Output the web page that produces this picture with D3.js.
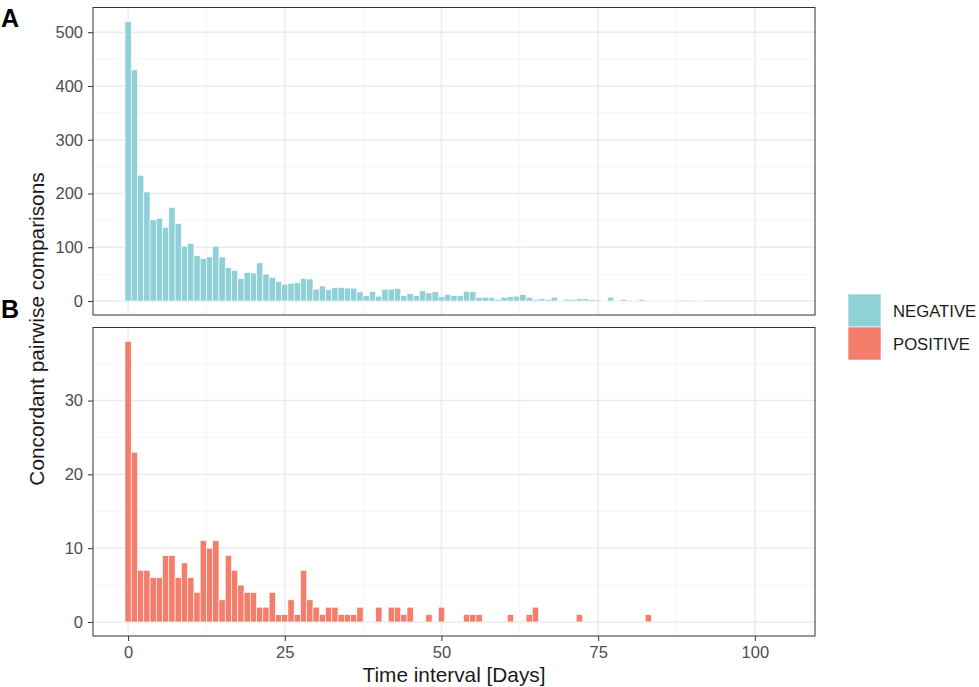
<!DOCTYPE html>
<html>
<head>
<meta charset="utf-8">
<script src="https://cdn.jsdelivr.net/npm/d3@7"></script>
<style>
  body { margin: 0; background: #fff; }
  text { font-family: "Liberation Sans", Arial, Helvetica, sans-serif; }
</style>
</head>
<body>
<div id="chart"></div>
<script>
var svgWidth = 979;
var svgHeight = 687;

// counts per day (bin centred on the day)
var negativeCounts = [520, 430, 234, 203, 151, 154, 137, 174, 144, 102,
  107, 84, 79, 82, 102, 82, 62, 57, 42, 53,
  52, 71, 50, 44, 36, 31, 33, 34, 42, 41,
  22, 28, 21, 25, 25, 24, 24, 17, 10, 18,
  9, 22, 22, 23, 10, 14, 10, 19, 15, 17,
  8, 12, 10, 10, 18, 17, 7, 7, 6, 3,
  7, 8, 9, 12, 7, 3, 4, 3, 7, 1,
  3, 3, 4, 4, 3, 2, 1, 7, 1, 3,
  0, 1, 3, 1, 1, 1, 1, 1, 0, 0,
  0, 1];
var positiveCounts = [38, 23, 7, 7, 6, 6, 9, 9, 6, 8,
  6, 4, 11, 10, 11, 3, 9, 7, 5, 4,
  4, 2, 2, 4, 1, 1, 3, 1, 7, 3,
  2, 1, 2, 2, 1, 1, 1, 2, 0, 0,
  2, 0, 2, 2, 1, 2, 0, 0, 1, 0,
  2, 0, 0, 0, 1, 1, 1, 0, 0, 0,
  0, 1, 0, 0, 1, 2, 0, 0, 0, 0,
  0, 0, 1, 0, 0, 0, 0, 0, 0, 0,
  0, 0, 0, 1];
var groups = ["NEGATIVE", "POSITIVE"];
var groupColors = ["#90D0D7", "#F47D6C"];
var panelLetters = ["A", "B"];
var xTicks = [0, 25, 50, 75, 100];
var xMinor = [12.5, 37.5, 62.5, 87.5];
var yTicksA = [0, 100, 200, 300, 400, 500];
var yMinorA = [50, 150, 250, 350, 450];
var yTicksB = [0, 10, 20, 30];
var yMinorB = [5, 15, 25, 35];

var panelLeft = 93, panelRight = 815;

var svg = d3.select("#chart")
  .append("svg")
  .attr("width", svgWidth)
  .attr("height", svgHeight);

var xScale = d3.scaleLinear()
  .domain([-5.6, 109.6])
  .range([panelLeft, panelRight]);

var panels = [
  { counts: negativeCounts, top: 7.5, bottom: 315, domain: [-26, 546], ticks: yTicksA, minor: yMinorA },
  { counts: positiveCounts, top: 327.5, bottom: 636, domain: [-1.9, 39.9], ticks: yTicksB, minor: yMinorB }
];

panels.forEach(function(p, k) {
  var yScale = d3.scaleLinear().domain(p.domain).range([p.bottom, p.top]);
  var g = svg.append("g");

  // grid: minor first, then major
  g.selectAll(".ymin").data(p.minor).enter().append("line")
    .attr("x1", panelLeft).attr("x2", panelRight)
    .attr("y1", d => yScale(d)).attr("y2", d => yScale(d))
    .attr("stroke", "#F2F2F2").attr("stroke-width", 0.8);
  g.selectAll(".xmin").data(xMinor).enter().append("line")
    .attr("y1", p.top).attr("y2", p.bottom)
    .attr("x1", d => xScale(d)).attr("x2", d => xScale(d))
    .attr("stroke", "#F2F2F2").attr("stroke-width", 0.8);
  g.selectAll(".ymaj").data(p.ticks).enter().append("line")
    .attr("x1", panelLeft).attr("x2", panelRight)
    .attr("y1", d => yScale(d)).attr("y2", d => yScale(d))
    .attr("stroke", "#EBEBEB").attr("stroke-width", 1.4);
  g.selectAll(".xmaj").data(xTicks).enter().append("line")
    .attr("y1", p.top).attr("y2", p.bottom)
    .attr("x1", d => xScale(d)).attr("x2", d => xScale(d))
    .attr("stroke", "#EBEBEB").attr("stroke-width", 1.4);

  // bars
  var bins = p.counts.map((v, i) => ({ day: i, n: v })).filter(d => d.n > 0);
  g.selectAll("rect.bar").data(bins).enter().append("rect")
    .attr("class", "bar")
    .attr("x", d => xScale(d.day - 0.5))
    .attr("width", d => xScale(d.day + 0.5) - xScale(d.day - 0.5))
    .attr("y", d => yScale(d.n))
    .attr("height", d => yScale(0) - yScale(d.n))
    .attr("fill", groupColors[k])
    .attr("stroke", "#fff")
    .attr("stroke-width", 0.6);

  // panel border
  g.append("rect")
    .attr("x", panelLeft).attr("y", p.top)
    .attr("width", panelRight - panelLeft).attr("height", p.bottom - p.top)
    .attr("fill", "none").attr("stroke", "#333").attr("stroke-width", 1);

  // y axis
  var yAxis = d3.axisLeft(yScale).tickValues(p.ticks).tickSize(5).tickPadding(5);
  var ya = g.append("g").attr("transform", `translate(${panelLeft},0)`).call(yAxis);
  ya.select(".domain").remove();
  ya.selectAll("line").attr("stroke", "#333");
  ya.selectAll("text").attr("fill", "#4D4D4D").style("font-size", "16.5px")
    .style("font-family", "'Liberation Sans', Arial, sans-serif");

  // panel letter
  svg.append("text")
    .attr("x", 1).attr("y", k === 0 ? 27 : 318)
    .attr("font-weight", "bold").style("font-size", "25px")
    .attr("fill", "#000")
    .text(panelLetters[k]);

  if (k === 1) {
    var xAxis = d3.axisBottom(xScale).tickValues(xTicks).tickSize(5).tickPadding(5);
    var xa = g.append("g").attr("transform", `translate(0,${p.bottom})`).call(xAxis);
    xa.select(".domain").remove();
    xa.selectAll("line").attr("stroke", "#333");
    xa.selectAll("text").attr("fill", "#4D4D4D").style("font-size", "16.5px")
      .style("font-family", "'Liberation Sans', Arial, sans-serif");
  }
});

// axis titles
svg.append("text")
  .attr("x", (panelLeft + panelRight) / 2).attr("y", 682)
  .attr("text-anchor", "middle").style("font-size", "20.8px").attr("fill", "#1A1A1A")
  .text("Time interval [Days]");

svg.append("text")
  .attr("transform", "translate(44,329) rotate(-90)")
  .attr("text-anchor", "middle").style("font-size", "20.8px").attr("fill", "#1A1A1A")
  .text("Concordant pairwise comparisons");

// legend
var legend = svg.append("g").attr("transform", "translate(848,294)");
groups.forEach(function(name, i) {
  legend.append("rect")
    .attr("x", 0).attr("y", i * 33)
    .attr("width", 33).attr("height", 33)
    .attr("fill", groupColors[i]).attr("stroke", "#fff").attr("stroke-width", 0.6);
  legend.append("text")
    .attr("x", 45).attr("y", i * 33 + 16.5)
    .attr("dy", "0.36em")
    .style("font-size", "16.7px").attr("fill", "#1A1A1A")
    .text(name);
});
</script>
</body>
</html>
